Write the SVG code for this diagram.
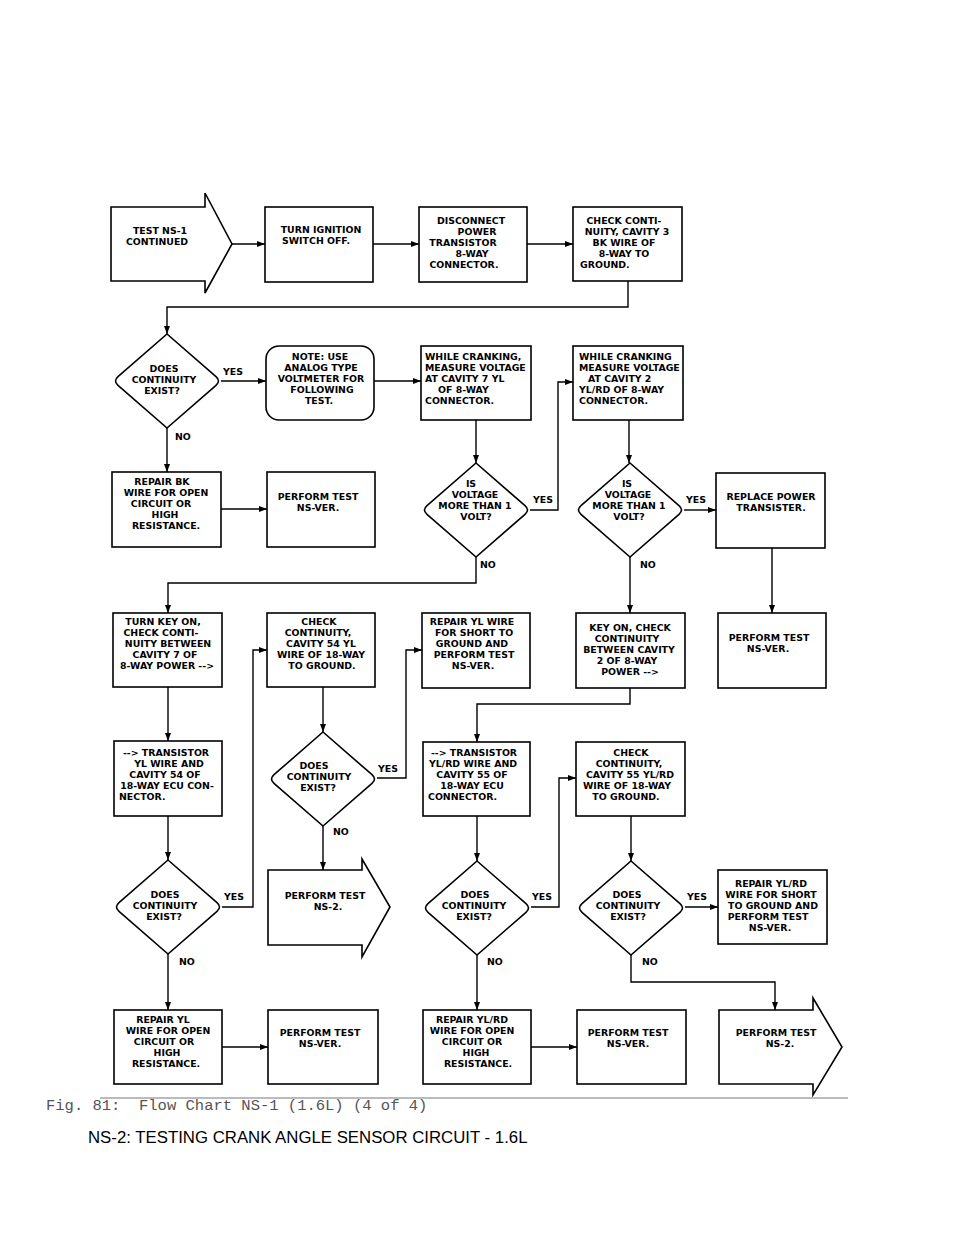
<svg xmlns="http://www.w3.org/2000/svg" xmlns:xlink="http://www.w3.org/1999/xlink" width="960" height="1242" viewBox="0 0 960 1242">
<style>
.s{fill:#fff;stroke:#000;stroke-width:1.6}
.c{fill:none;stroke:#000;stroke-width:1.4}
.t{font-family:"DejaVu Sans",sans-serif;font-weight:bold;font-size:9.4px;text-anchor:middle;fill:#000}
.l{text-anchor:start}
.lab{font-family:"DejaVu Sans",sans-serif;font-weight:bold;font-size:9.4px;fill:#000}
.cap{font-family:"Liberation Mono","Courier New",monospace;font-size:15.5px;fill:#555}
.ttl{font-family:"Liberation Sans",Arial,sans-serif;font-size:16.8px;fill:#000}
</style>
<defs>
<marker id="ah" markerUnits="userSpaceOnUse" markerWidth="8" markerHeight="6" refX="8" refY="3" orient="auto">
<path d="M0,0 L8,3 L0,6 Z" fill="#000"/>
</marker>
<path id="dia" d="M0,-47 L49,-4.3 Q54,0 49,4.3 L0,47 L-49,4.3 Q-54,0 -49,-4.3 Z"/>
</defs>
<rect width="960" height="1242" fill="#fff"/>

<g id="connectors" class="c" marker-end="url(#ah)">
<path d="M232,244 H265"/>
<path d="M373,244 H419"/>
<path d="M527,244 H573"/>
<path d="M628,281 V307 H167 V334"/>
<path d="M221,381 H266"/>
<path d="M374,381 H421"/>
<path d="M476,420 V463"/>
<path d="M629,420 V463"/>
<path d="M167,428 V472"/>
<path d="M221,509 H267"/>
<path d="M530,510 H558 V382 H573"/>
<path d="M684,510 H716"/>
<path d="M476,557 V583 H168 V613"/>
<path d="M630,557 V613"/>
<path d="M772,548 V613"/>
<path d="M168,687 V741"/>
<path d="M323,687 V732"/>
<path d="M630,688 V704 H477 V742"/>
<path d="M377,778 H406 V650 H422"/>
<path d="M222,907 H253 V650 H267"/>
<path d="M168,816 V860"/>
<path d="M323,825 V870"/>
<path d="M477,816 V861"/>
<path d="M631,816 V861"/>
<path d="M531,907 H559 V778 H576"/>
<path d="M685,907 H718"/>
<path d="M168,954 V1010"/>
<path d="M222,1047 H268"/>
<path d="M477,954 V1010"/>
<path d="M531,1047 H577"/>
<path d="M631,954 V982 H775 V1010"/>
</g>

<g id="n_start">
<polygon class="s" points="111,207 205,207 205,193 232,244 205,293 205,281 111,281"/>
<text class="t" font-size="8.6"><tspan x="160" y="234">TEST NS-1</tspan><tspan x="157" y="245">CONTINUED</tspan></text>
</g>
<g id="n_ign">
<rect class="s" x="265" y="207" width="108" height="75"/>
<text class="t"><tspan x="321" y="233.4">TURN IGNITION</tspan><tspan x="316" y="244.4">SWITCH OFF.</tspan></text>
</g>
<g id="n_disc">
<rect class="s" x="419" y="207" width="108" height="75"/>
<text class="t"><tspan x="471" y="224.4">DISCONNECT</tspan><tspan x="477" y="235.4">POWER</tspan><tspan x="463" y="246.4">TRANSISTOR</tspan><tspan x="472" y="257.4">8-WAY</tspan><tspan x="464" y="268.4">CONNECTOR.</tspan></text>
</g>
<g id="n_check3">
<rect class="s" x="573" y="207" width="109" height="74"/>
<text class="t"><tspan x="624" y="224.4">CHECK CONTI-</tspan><tspan x="627" y="235.4">NUITY, CAVITY 3</tspan><tspan x="624" y="246.4">BK WIRE OF</tspan><tspan x="624" y="257.4">8-WAY TO</tspan><tspan class="l" x="580" y="268.4">GROUND.</tspan></text>
</g>

<g id="n_d1">
<use xlink:href="#dia" x="167" y="381" class="s"/>
<text class="t"><tspan x="164" y="371.9">DOES</tspan><tspan x="164" y="382.9">CONTINUITY</tspan><tspan x="162" y="393.9">EXIST?</tspan></text>
</g>
<g id="n_note">
<rect class="s" x="266" y="346" width="108" height="74" rx="13"/>
<text class="t"><tspan x="320" y="359.9">NOTE: USE</tspan><tspan x="321" y="370.9">ANALOG TYPE</tspan><tspan x="321" y="381.9">VOLTMETER FOR</tspan><tspan x="322" y="392.9">FOLLOWING</tspan><tspan x="319" y="403.9">TEST.</tspan></text>
</g>
<g id="n_wc7">
<rect class="s" x="421" y="346" width="110" height="74"/>
<text class="t l"><tspan x="425" y="359.9">WHILE CRANKING,</tspan><tspan x="425" y="370.9">MEASURE VOLTAGE</tspan><tspan x="425" y="381.9">AT CAVITY 7 YL</tspan><tspan x="438" y="392.9">OF 8-WAY</tspan><tspan x="425" y="403.9">CONNECTOR.</tspan></text>
</g>
<g id="n_wc2">
<rect class="s" x="573" y="346" width="110" height="74"/>
<text class="t l"><tspan x="579" y="359.9">WHILE CRANKING</tspan><tspan x="579" y="370.9">MEASURE VOLTAGE</tspan><tspan x="588" y="381.9">AT CAVITY 2</tspan><tspan x="579" y="392.9">YL/RD OF 8-WAY</tspan><tspan x="579" y="403.9">CONNECTOR.</tspan></text>
</g>

<g id="n_repbk">
<rect class="s" x="112" y="472" width="109" height="75"/>
<text class="t"><tspan x="162" y="484.9">REPAIR BK</tspan><tspan x="166" y="495.9">WIRE FOR OPEN</tspan><tspan x="161" y="506.9">CIRCUIT OR</tspan><tspan x="165" y="517.9">HIGH</tspan><tspan x="166" y="528.9">RESISTANCE.</tspan></text>
</g>
<g id="n_ver1">
<rect class="s" x="267" y="472" width="108" height="75"/>
<text class="t"><tspan x="318" y="499.9">PERFORM TEST</tspan><tspan x="318" y="510.9">NS-VER.</tspan></text>
</g>
<g id="n_d2">
<use xlink:href="#dia" x="476" y="510" class="s"/>
<text class="t"><tspan x="471" y="487.4">IS</tspan><tspan x="475" y="498.4">VOLTAGE</tspan><tspan x="475" y="509.4">MORE THAN 1</tspan><tspan x="476" y="520.4">VOLT?</tspan></text>
</g>
<g id="n_d3">
<use xlink:href="#dia" x="630" y="510" class="s"/>
<text class="t"><tspan x="627" y="487.4">IS</tspan><tspan x="628" y="498.4">VOLTAGE</tspan><tspan x="629" y="509.4">MORE THAN 1</tspan><tspan x="629" y="520.4">VOLT?</tspan></text>
</g>
<g id="n_replace">
<rect class="s" x="716" y="473" width="109" height="75"/>
<text class="t"><tspan x="771" y="499.9">REPLACE POWER</tspan><tspan x="771" y="510.9">TRANSISTER.</tspan></text>
</g>

<g id="n_keyon7">
<rect class="s" x="113" y="613" width="109" height="74"/>
<text class="t"><tspan x="163" y="624.9">TURN KEY ON,</tspan><tspan x="161" y="635.9">CHECK CONTI-</tspan><tspan x="168" y="646.9">NUITY BETWEEN</tspan><tspan x="165" y="657.9">CAVITY 7 OF</tspan><tspan x="167" y="668.9">8-WAY POWER --&gt;</tspan></text>
</g>
<g id="n_check54">
<rect class="s" x="267" y="613" width="108" height="74"/>
<text class="t"><tspan x="319" y="624.9">CHECK</tspan><tspan x="318" y="635.9">CONTINUITY,</tspan><tspan x="321" y="646.9">CAVITY 54 YL</tspan><tspan x="321" y="657.9">WIRE OF 18-WAY</tspan><tspan x="322" y="668.9">TO GROUND.</tspan></text>
</g>
<g id="n_repyl_short">
<rect class="s" x="422" y="613" width="108" height="75"/>
<text class="t"><tspan x="472" y="624.9">REPAIR YL WIRE</tspan><tspan x="474" y="635.9">FOR SHORT TO</tspan><tspan x="472" y="646.9">GROUND AND</tspan><tspan x="474" y="657.9">PERFORM TEST</tspan><tspan x="473" y="668.9">NS-VER.</tspan></text>
</g>
<g id="n_keyon2">
<rect class="s" x="576" y="613" width="109" height="75"/>
<text class="t"><tspan x="630" y="631.4">KEY ON, CHECK</tspan><tspan x="627" y="642.4">CONTINUITY</tspan><tspan x="629" y="653.4">BETWEEN CAVITY</tspan><tspan x="627" y="664.4">2 OF 8-WAY</tspan><tspan x="630" y="675.4">POWER --&gt;</tspan></text>
</g>
<g id="n_ver2">
<rect class="s" x="718" y="613" width="108" height="75"/>
<text class="t"><tspan x="769" y="640.9">PERFORM TEST</tspan><tspan x="768" y="651.9">NS-VER.</tspan></text>
</g>

<g id="n_transyl">
<rect class="s" x="114" y="741" width="108" height="75"/>
<text class="t"><tspan x="166" y="756.4">--&gt; TRANSISTOR</tspan><tspan x="169" y="767.4">YL WIRE AND</tspan><tspan x="165" y="778.4">CAVITY 54 OF</tspan><tspan x="167" y="789.4">18-WAY ECU CON-</tspan><tspan class="l" x="119" y="800.4">NECTOR.</tspan></text>
</g>
<g id="n_d4">
<use xlink:href="#dia" x="323" y="779" class="s"/>
<text class="t"><tspan x="314" y="769.4">DOES</tspan><tspan x="319" y="780.4">CONTINUITY</tspan><tspan x="318" y="791.4">EXIST?</tspan></text>
</g>
<g id="n_transylrd">
<rect class="s" x="423" y="742" width="107" height="74"/>
<text class="t"><tspan x="474" y="756.4">--&gt; TRANSISTOR</tspan><tspan x="473" y="767.4">YL/RD WIRE AND</tspan><tspan x="472" y="778.4">CAVITY 55 OF</tspan><tspan x="472" y="789.4">18-WAY ECU</tspan><tspan class="l" x="428" y="800.4">CONNECTOR.</tspan></text>
</g>
<g id="n_check55">
<rect class="s" x="576" y="742" width="109" height="74"/>
<text class="t"><tspan x="631" y="756.4">CHECK</tspan><tspan x="629" y="767.4">CONTINUITY,</tspan><tspan x="630" y="778.4">CAVITY 55 YL/RD</tspan><tspan x="627" y="789.4">WIRE OF 18-WAY</tspan><tspan x="626" y="800.4">TO GROUND.</tspan></text>
</g>

<g id="n_d5">
<use xlink:href="#dia" x="168" y="907" class="s"/>
<text class="t"><tspan x="165" y="898.4">DOES</tspan><tspan x="165" y="909.4">CONTINUITY</tspan><tspan x="164" y="920.4">EXIST?</tspan></text>
</g>
<g id="n_ns2a">
<polygon class="s" points="268,870 362,870 362,859 390,907 362,957 362,945 268,945"/>
<text class="t"><tspan x="325" y="898.9">PERFORM TEST</tspan><tspan x="328" y="909.9">NS-2.</tspan></text>
</g>
<g id="n_d6">
<use xlink:href="#dia" x="477" y="908" class="s"/>
<text class="t"><tspan x="475" y="898.4">DOES</tspan><tspan x="474" y="909.4">CONTINUITY</tspan><tspan x="474" y="920.4">EXIST?</tspan></text>
</g>
<g id="n_d7">
<use xlink:href="#dia" x="631" y="908" class="s"/>
<text class="t"><tspan x="627" y="898.4">DOES</tspan><tspan x="628" y="909.4">CONTINUITY</tspan><tspan x="628" y="920.4">EXIST?</tspan></text>
</g>
<g id="n_repylrd_short">
<rect class="s" x="718" y="870" width="109" height="74"/>
<text class="t"><tspan x="771" y="886.9">REPAIR YL/RD</tspan><tspan x="771" y="897.9">WIRE FOR SHORT</tspan><tspan x="773" y="908.9">TO GROUND AND</tspan><tspan x="768" y="919.9">PERFORM TEST</tspan><tspan x="770" y="930.9">NS-VER.</tspan></text>
</g>

<g id="n_repyl_open">
<rect class="s" x="114" y="1010" width="108" height="74"/>
<text class="t"><tspan x="163" y="1022.9">REPAIR YL</tspan><tspan x="168" y="1033.9">WIRE FOR OPEN</tspan><tspan x="164" y="1044.9">CIRCUIT OR</tspan><tspan x="167" y="1055.9">HIGH</tspan><tspan x="166" y="1066.9">RESISTANCE.</tspan></text>
</g>
<g id="n_ver3">
<rect class="s" x="268" y="1010" width="110" height="74"/>
<text class="t"><tspan x="320" y="1035.9">PERFORM TEST</tspan><tspan x="320" y="1046.9">NS-VER.</tspan></text>
</g>
<g id="n_repylrd_open">
<rect class="s" x="423" y="1010" width="108" height="74"/>
<text class="t"><tspan x="472" y="1022.9">REPAIR YL/RD</tspan><tspan x="472" y="1033.9">WIRE FOR OPEN</tspan><tspan x="472" y="1044.9">CIRCUIT OR</tspan><tspan x="476" y="1055.9">HIGH</tspan><tspan x="478" y="1066.9">RESISTANCE.</tspan></text>
</g>
<g id="n_ver4">
<rect class="s" x="577" y="1010" width="109" height="74"/>
<text class="t"><tspan x="628" y="1035.9">PERFORM TEST</tspan><tspan x="628" y="1046.9">NS-VER.</tspan></text>
</g>
<g id="n_ns2b">
<polygon class="s" points="719,1010 813,1010 813,998 842,1047 813,1095 813,1084 719,1084"/>
<text class="t"><tspan x="776" y="1035.9">PERFORM TEST</tspan><tspan x="780" y="1046.9">NS-2.</tspan></text>
</g>

<g id="labels" class="lab">
<text x="223" y="375">YES</text>
<text x="175" y="440">NO</text>
<text x="533" y="503">YES</text>
<text x="480" y="568">NO</text>
<text x="686" y="503">YES</text>
<text x="640" y="568">NO</text>
<text x="378" y="772">YES</text>
<text x="333" y="835">NO</text>
<text x="224" y="900">YES</text>
<text x="179" y="965">NO</text>
<text x="532" y="900">YES</text>
<text x="487" y="965">NO</text>
<text x="687" y="900">YES</text>
<text x="642" y="965">NO</text>
</g>

<g id="caption">
<line x1="100" y1="1098" x2="848" y2="1098" stroke="#777" stroke-width="1"/>
<text class="cap" x="46" y="1110" xml:space="preserve">Fig. 81:  Flow Chart NS-1 (1.6L) (4 of 4)</text>
<text class="ttl" x="88" y="1143">NS-2: TESTING CRANK ANGLE SENSOR CIRCUIT - 1.6L</text>
</g>
</svg>
